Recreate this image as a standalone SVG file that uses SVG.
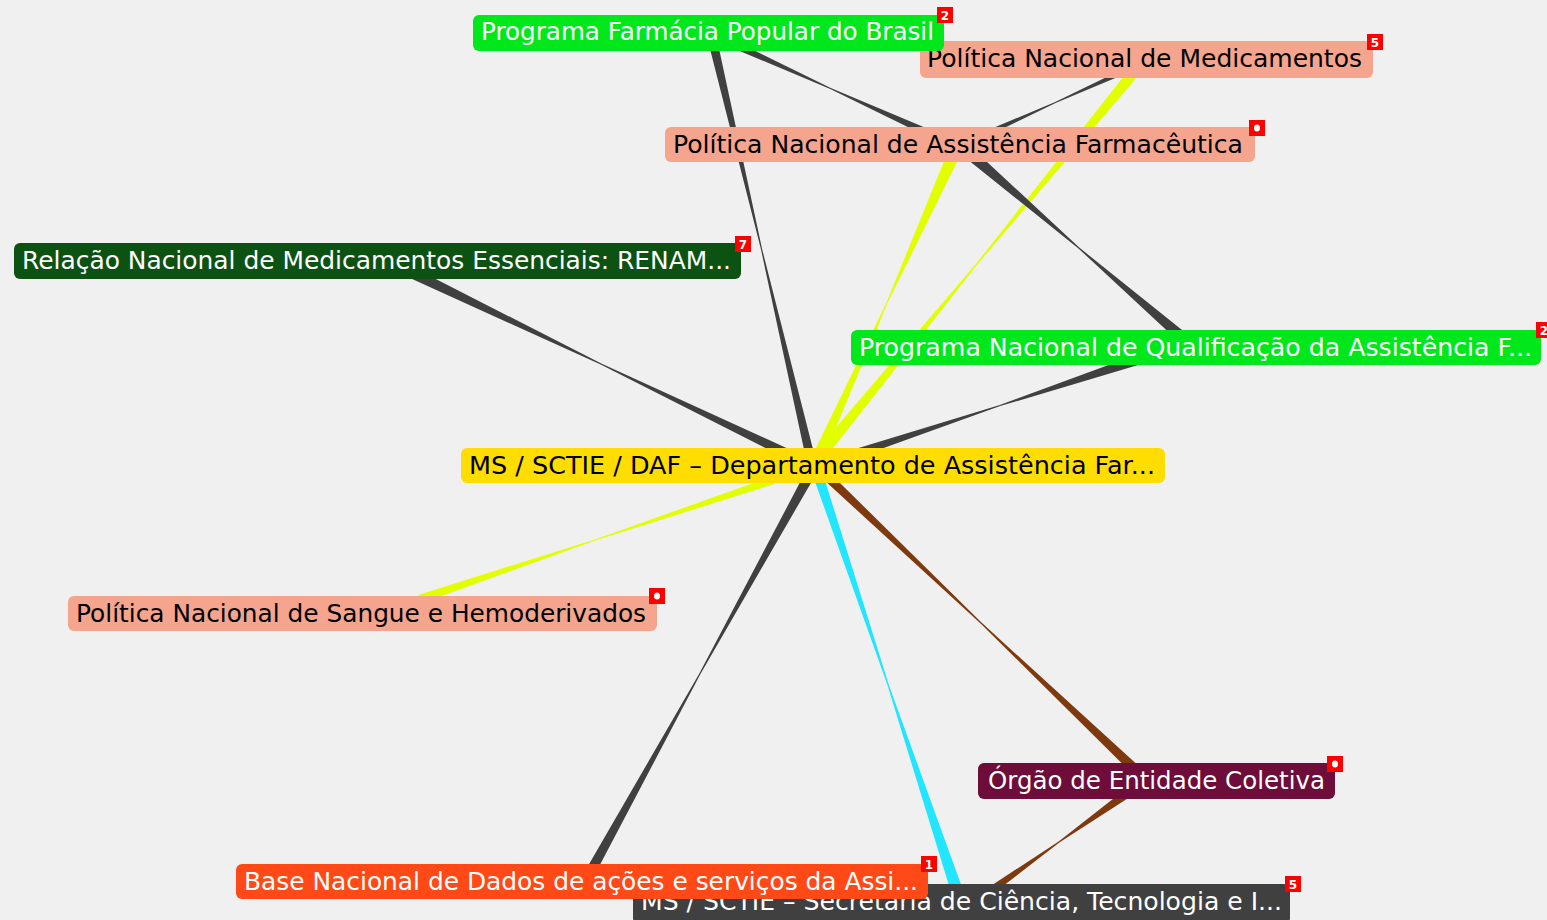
<svg xmlns="http://www.w3.org/2000/svg" width="1547" height="920" viewBox="0 0 1547 920">
<style>
.bg{fill:#f0f0f0}
.ed{fill:#404040}
.ey{fill:#e2ff00}
.ec{fill:#22e5ff}
.eb{fill:#7e3a0e}
.box{stroke:none}
.t{font-family:"DejaVu Sans","Liberation Sans",sans-serif;font-size:24px}
.w{fill:#ffffff}
.k{fill:#000000}
.bd{fill:#ff0000}
.bt{font-family:"DejaVu Sans","Liberation Sans",sans-serif;font-size:12px;font-weight:bold;fill:#ffffff;text-anchor:middle}
</style>
<rect class="bg" x="0" y="0" width="1547" height="920"/>
<g id="connectors">
<path class="ed" d="M709,45 L761,249.6 L805.4,456 L814.2,454 L762.2,249.4 L717.8,43 Z"/>
<path class="ed" d="M735.6,49.2 L830.25,89.05 L922.6,134.2 L925.4,127.8 L830.75,87.95 L738.4,42.8 Z"/>
<path class="ed" d="M1117.5,71.7 L1055.2,102 L991.3,128.7 L993.3,133.3 L1055.6,103 L1119.5,76.3 Z"/>
<path class="ey" d="M1129.9,68.5 L976.2,263.6 L814.7,452.2 L823.9,459.8 L977.3,264.4 L1138.5,75.5 Z"/>
<path class="ey" d="M949.7,147.3 L886.4,302.75 L813.2,453.7 L823.2,458.3 L887.4,303.25 L961.5,152.7 Z"/>
<path class="ed" d="M971,162.2 L1078.46,248.45 L1179.5,342.2 L1186.7,333.8 L1079.24,247.55 L978.2,153.8 Z"/>
<path class="ed" d="M1147.3,350.8 L999.8,404.9 L849.6,450.7 L852.4,459.3 L1000.2,406.1 L1150.7,361.2 Z"/>
<path class="ed" d="M407.7,277 L600.7,364.5 L789.9,460.5 L794.1,451.5 L601.3,363.5 L412.3,267 Z"/>
<path class="ey" d="M772.5,476.2 L596.3,538.93 L418.8,594.7 L421.6,603.3 L596.6,540.07 L774.9,483.8 Z"/>
<path class="ed" d="M803.6,475.6 L699.2,673.7 L587.1,867.6 L595.9,872.4 L700.3,674.3 L812.4,480.4 Z"/>
<path class="ec" d="M814.3,479.6 L887.5,685.2 L951.6,893.9 L963,890.1 L888.8,684.8 L823.7,476.4 Z"/>
<path class="eb" d="M825.4,481.3 L980.6,623.4 L1130.2,771.6 L1137,764.4 L981.5,622.6 L831.6,474.7 Z"/>
<path class="eb" d="M1126.6,788.3 L1058.65,841.5 L986.5,888.7 L991.1,895.3 L1059.35,842.5 L1131.8,795.7 Z"/>
</g>
<g id="node-pmn">
<rect class="box" x="920" y="41" width="453" height="37" rx="6" fill="#f5a58e"/>
<text class="t k" x="927" y="67" textLength="435" lengthAdjust="spacingAndGlyphs">Política Nacional de Medicamentos</text>
<rect class="bd" x="1367" y="34" width="16" height="16"/>
<text class="bt" x="1375" y="46.5">5</text>
</g>
<g id="node-farmacia-popular">
<rect class="box" x="473" y="15" width="471" height="36" rx="6" fill="#00e81c"/>
<text class="t w" x="481" y="40" textLength="453" lengthAdjust="spacingAndGlyphs">Programa Farmácia Popular do Brasil</text>
<rect class="bd" x="937" y="7" width="16" height="16"/>
<text class="bt" x="945" y="19.5">2</text>
</g>
<g id="node-pnaf">
<rect class="box" x="665" y="127" width="590" height="35" rx="6" fill="#f5a58e"/>
<text class="t k" x="673" y="153" textLength="570" lengthAdjust="spacingAndGlyphs">Política Nacional de Assistência Farmacêutica</text>
<rect class="bd" x="1249" y="120" width="16" height="16"/>
<ellipse cx="1257" cy="128" rx="3" ry="3.5" fill="#ffffff"/>
</g>
<g id="node-rename">
<rect class="box" x="14" y="243" width="727" height="36" rx="6" fill="#0c5213"/>
<text class="t w" x="22" y="269" textLength="709" lengthAdjust="spacingAndGlyphs">Relação Nacional de Medicamentos Essenciais: RENAM...</text>
<rect class="bd" x="735" y="236" width="16" height="16"/>
<text class="bt" x="743" y="248.5">7</text>
</g>
<g id="node-pnq">
<rect class="box" x="851" y="330" width="690" height="35" rx="6" fill="#00e81c"/>
<text class="t w" x="859" y="356" textLength="673" lengthAdjust="spacingAndGlyphs">Programa Nacional de Qualificação da Assistência F...</text>
<rect class="bd" x="1536" y="322" width="16" height="16"/>
<text class="bt" x="1544" y="334.5">2</text>
</g>
<g id="node-daf">
<rect class="box" x="461" y="448" width="704" height="35" rx="6" fill="#ffdd00"/>
<text class="t k" x="469" y="474" textLength="686" lengthAdjust="spacingAndGlyphs">MS / SCTIE / DAF – Departamento de Assistência Far...</text>
</g>
<g id="node-sangue">
<rect class="box" x="68" y="596" width="589" height="35" rx="6" fill="#f5a58e"/>
<text class="t k" x="76" y="622" textLength="570" lengthAdjust="spacingAndGlyphs">Política Nacional de Sangue e Hemoderivados</text>
<rect class="bd" x="649" y="588" width="16" height="16"/>
<ellipse cx="657" cy="596" rx="3" ry="3.5" fill="#ffffff"/>
</g>
<g id="node-orgao">
<rect class="box" x="978" y="763" width="357" height="36" rx="6" fill="#6e0c3a"/>
<text class="t w" x="988" y="789" textLength="337" lengthAdjust="spacingAndGlyphs">Órgão de Entidade Coletiva</text>
<rect class="bd" x="1327" y="756" width="16" height="16"/>
<ellipse cx="1335" cy="764" rx="3" ry="3.5" fill="#ffffff"/>
</g>
<g id="node-sctie">
<rect class="box" x="633" y="884" width="657" height="40" rx="6" fill="#404040"/>
<text class="t w" x="641" y="910" textLength="641" lengthAdjust="spacingAndGlyphs">MS / SCTIE – Secretaria de Ciência, Tecnologia e I...</text>
<rect class="bd" x="1285" y="876" width="16" height="16"/>
<text class="bt" x="1293" y="888.5">5</text>
</g>
<g id="node-base">
<rect class="box" x="236" y="864" width="692" height="35" rx="6" fill="#ff4a17"/>
<text class="t w" x="244" y="890" textLength="674" lengthAdjust="spacingAndGlyphs">Base Nacional de Dados de ações e serviços da Assi...</text>
<rect class="bd" x="921" y="856" width="16" height="16"/>
<text class="bt" x="929" y="868.5">1</text>
</g>
</svg>
